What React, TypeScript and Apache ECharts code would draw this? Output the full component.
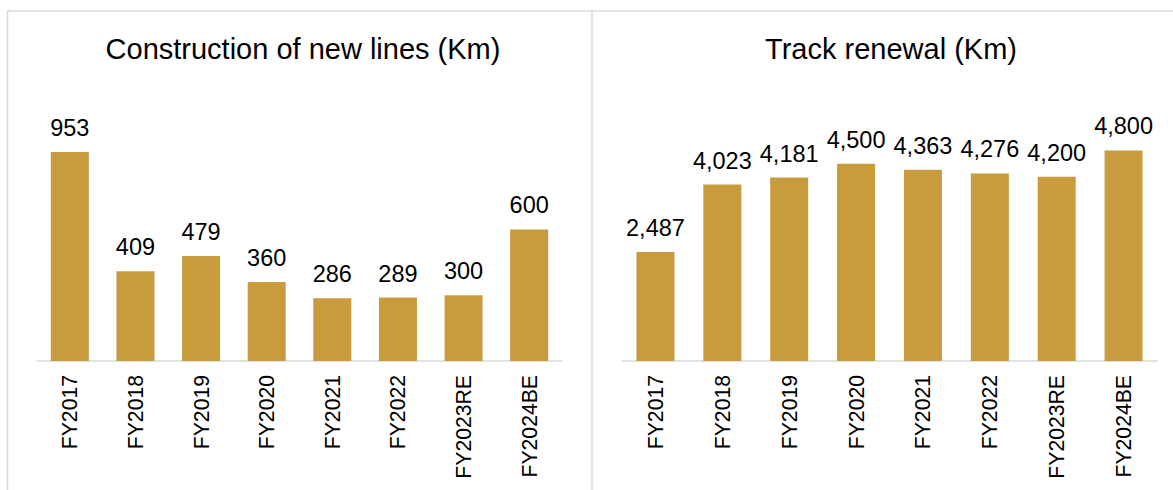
import React, { useEffect, useRef } from "react";
import * as echarts from "echarts";

const categories = ["FY2017", "FY2018", "FY2019", "FY2020", "FY2021", "FY2022", "FY2023RE", "FY2024BE"];
const newLines = [953, 409, 479, 360, 286, 289, 300, 600];
const trackRenewal = [2487, 4023, 4181, 4500, 4363, 4276, 4200, 4800];
const titles = ["Construction of new lines (Km)", "Track renewal (Km)"];

const FONT = '"Liberation Sans", Arial, sans-serif';
const BAR = "#C89B3C";
const LINE = "#D9D9D9";

export default function App() {
  const ref = useRef<HTMLDivElement>(null);
  useEffect(() => {
    if (!ref.current) return;
    const chart = echarts.init(ref.current, undefined, { renderer: "svg" });
    const fmt = (p: any) => Number(p.value).toLocaleString("en-US");
    const xAxisBase = (gridIndex: number) => ({
      type: "category" as const,
      gridIndex,
      data: categories,
      axisLine: { lineStyle: { color: LINE, width: 1.5 } },
      axisTick: { show: false },
      axisLabel: { rotate: 90, fontSize: 21.2, color: "#000", fontFamily: FONT, margin: 14 },
    });
    const labelBase = {
      show: true,
      position: "top" as const,
      distance: 12,
      fontSize: 23.5,
      color: "#000",
      fontFamily: FONT,
      formatter: fmt,
    };
    const titleStyle = { fontSize: 29, fontWeight: "normal", color: "#000", fontFamily: FONT, lineHeight: 34 };
    chart.setOption({
      animation: false,
      backgroundColor: "#fff",
      title: [
        { text: titles[0], left: 298, top: 27, textAlign: "center", textStyle: titleStyle },
        { text: titles[1], left: 886, top: 27, textAlign: "center", textStyle: titleStyle },
      ],
      grid: [
        { left: 37, top: 141.7, width: 525, height: 219.3 },
        { left: 622, top: 141.7, width: 535, height: 219.3 },
      ],
      xAxis: [xAxisBase(0), xAxisBase(1)],
      yAxis: [
        { type: "value", gridIndex: 0, min: 0, max: 1000, show: false, splitLine: { show: false } },
        { type: "value", gridIndex: 1, min: 0, max: 5000, show: false, splitLine: { show: false } },
      ],
      series: [
        {
          type: "bar",
          xAxisIndex: 0,
          yAxisIndex: 0,
          data: newLines,
          barWidth: 38,
          itemStyle: { color: BAR },
          label: labelBase,
        },
        {
          type: "bar",
          xAxisIndex: 1,
          yAxisIndex: 1,
          data: trackRenewal,
          barWidth: 38,
          itemStyle: { color: BAR },
          label: labelBase,
        },
      ],
      graphic: [
        { type: "line", shape: { x1: 7, y1: 11, x2: 1173, y2: 11 }, style: { stroke: LINE, lineWidth: 1.5 } },
        { type: "line", shape: { x1: 7.5, y1: 11, x2: 7.5, y2: 490 }, style: { stroke: LINE, lineWidth: 1.5 } },
        { type: "line", shape: { x1: 592, y1: 11, x2: 592, y2: 490 }, style: { stroke: LINE, lineWidth: 1.5 } },
      ],
    });
    return () => chart.dispose();
  }, []);
  return (
    <div
      ref={ref}
      style={{ position: "absolute", left: 0, top: 0, width: 1173, height: 490 }}
    />
  );
}
